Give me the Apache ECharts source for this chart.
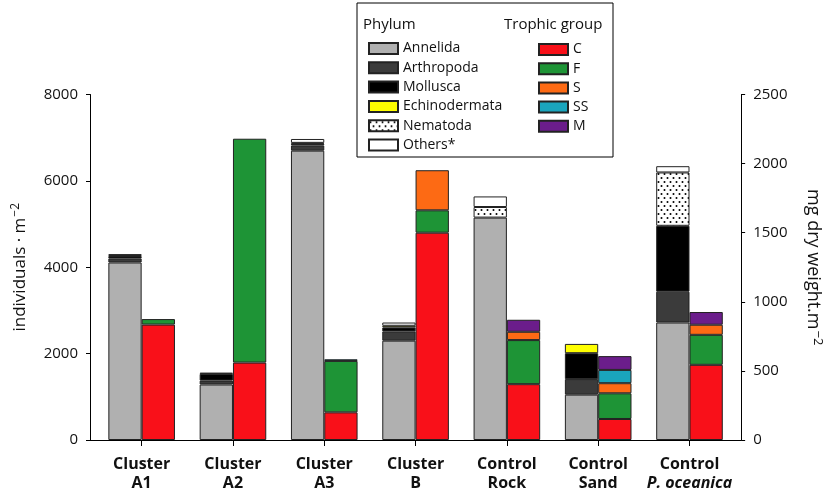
<!DOCTYPE html>
<html>
<head>
<meta charset="utf-8">
<script src="https://cdn.jsdelivr.net/npm/echarts@6/dist/echarts.min.js"></script>
<style>
  html, body { margin: 0; padding: 0; background: #fff; }
  #chart { width: 829px; height: 493px; }
</style>
</head>
<body>
<div id="chart"></div>
<script>
// Sites (two-line labels: site type / site name)
const categories = ['Cluster\nA1', 'Cluster\nA2', 'Cluster\nA3', 'Cluster\nB', 'Control\nRock', 'Control\nSand', 'Control\nP. oceanica'];

// Density by phylum (individuals per m2), left axis
const annelida      = [4110, 1285, 6700, 2300, 5150, 1050, 2720];
const arthropoda    = [95, 90, 120, 215, null, 360, 715];
const mollusca      = [55, 155, 40, 90, null, 600, 1525];
const echinodermata = [null, null, 20, 40, null, 215, null];
const nematoda      = [null, null, null, null, 245, null, 1235];
const others        = [45, 30, 90, 75, 245, null, 145];

// Biomass by trophic group (mg dry weight per m2), right axis
const trophC  = [835, 560, 200, 1500, 404, 152, 544];
const trophF  = [40, 1620, 372, 162, 319, 186, 217];
const trophS  = [null, null, null, 290, 60, 73, 73];
const trophSS = [null, null, 12, null, null, 96, null];
const trophM  = [null, null, null, null, 87, 100, 92];

// Axis ticks
const leftTicks  = { min: 0, max: 8000, interval: 2000 };
const rightTicks = { min: 0, max: 2500, interval: 500 };

// Dotted fill used for Nematoda
function dotPattern() {
  const c = document.createElement('canvas');
  c.width = 6; c.height = 8;
  const g = c.getContext('2d');
  g.fillStyle = '#fff';
  g.fillRect(0, 0, 6, 8);
  g.fillStyle = '#000';
  g.beginPath(); g.arc(1.5, 2, 1, 0, Math.PI * 2); g.fill();
  g.beginPath(); g.arc(4.5, 6, 1, 0, Math.PI * 2); g.fill();
  return { image: c, repeat: 'repeat' };
}

const FONT = 'Open Sans';
const EDGE = '#222';

function barStyle(color) {
  return { color: color, borderColor: EDGE, borderWidth: 1 };
}

const phylumSeries = [
  ['Annelida', annelida, '#b0b0b0'],
  ['Arthropoda', arthropoda, '#3b3b3b'],
  ['Mollusca', mollusca, '#000000'],
  ['Echinodermata', echinodermata, '#ffff00'],
  ['Nematoda', nematoda, dotPattern()],
  ['Others*', others, '#ffffff']
].map(([name, data, color]) => ({
  name, type: 'bar', stack: 'phylum', data,
  xAxisIndex: 0, yAxisIndex: 0,
  barWidth: 33.3, barGap: '0%',
  itemStyle: barStyle(color)
}));

const trophicSeries = [
  ['C', trophC, '#f91019'],
  ['F', trophF, '#1e9436'],
  ['S', trophS, '#fd6a14'],
  ['SS', trophSS, '#1aa5bd'],
  ['M', trophM, '#6b1d8b']
].map(([name, data, color]) => ({
  name, type: 'bar', stack: 'trophic', data,
  xAxisIndex: 0, yAxisIndex: 1,
  barWidth: 33.3, barGap: '0%',
  itemStyle: barStyle(color)
}));

const chart = echarts.init(document.getElementById('chart'), null, { renderer: 'canvas' });

const legendText = { fontFamily: FONT, fontSize: 14, color: '#111', lineHeight: 14 };
const plain = v => String(v);

chart.setOption({
  animation: false,
  backgroundColor: '#fff',
  textStyle: { fontFamily: FONT },
  grid: [
    { left: 96, right: 93.85, top: 94.5, bottom: 53, containLabel: false, outerBoundsMode: 'none' },
    { left: 90, right: 88, top: 94.5, bottom: 53, containLabel: false, outerBoundsMode: 'none' }
  ],
  legend: [
    {
      data: phylumSeries.map(s => s.name),
      orient: 'vertical', left: 368, top: 41.5, padding: 0,
      itemWidth: 29, itemHeight: 11, itemGap: 5.3,
      icon: 'rect', selectedMode: false,
      textStyle: legendText
    },
    {
      data: trophicSeries.map(s => s.name),
      orient: 'vertical', left: 538, top: 42.5, padding: 0,
      itemWidth: 29, itemHeight: 11, itemGap: 5.2,
      icon: 'rect', selectedMode: false,
      textStyle: legendText
    }
  ],
  graphic: [
    { type: 'rect', shape: { x: 357, y: 3, width: 256, height: 154 },
      style: { fill: 'none', stroke: '#000', lineWidth: 1 }, z: 1 },
    { type: 'text', x: 363, y: 25,
      style: { text: 'Phylum', font: '15px "Open Sans"', fill: '#111', textVerticalAlign: 'middle' } },
    { type: 'text', x: 504, y: 25,
      style: { text: 'Trophic group', font: '15px "Open Sans"', fill: '#111', textVerticalAlign: 'middle' } }
  ],
  xAxis: [
    {
      type: 'category', gridIndex: 0, data: categories,
      axisLine: { show: false },
      axisTick: { show: true, alignWithLabel: true, length: 6, lineStyle: { color: '#000' } },
      axisLabel: {
        margin: 15, interval: 0, color: '#111',
        formatter: function (v) {
          const parts = v.split('\n');
          const second = parts[1] === 'P. oceanica' ? '{i|' + parts[1] + '}' : '{b|' + parts[1] + '}';
          return '{b|' + parts[0] + '}\n' + second;
        },
        rich: {
          b: { fontFamily: FONT, fontSize: 16, fontWeight: 'bold', color: '#111', lineHeight: 19 },
          i: { fontFamily: FONT, fontSize: 16, fontWeight: 'bold', fontStyle: 'italic', color: '#111', lineHeight: 19 }
        }
      }
    },
    {
      type: 'value', gridIndex: 1, min: 0, max: 1,
      axisLine: { show: true, lineStyle: { color: '#000', width: 1 } },
      axisTick: { show: false }, axisLabel: { show: false }, splitLine: { show: false }
    }
  ],
  yAxis: [
    {
      type: 'value', gridIndex: 0, position: 'left', offset: 6,
      min: leftTicks.min, max: leftTicks.max, interval: leftTicks.interval,
      axisLine: { show: true, lineStyle: { color: '#000', width: 1 } },
      axisTick: { show: true, length: 4, lineStyle: { color: '#000' } },
      splitLine: { show: false },
      axisLabel: { margin: 12, fontSize: 15, color: '#111', fontFamily: FONT, formatter: plain },
      name: 'individuals · m{s|−2}', nameLocation: 'middle', nameGap: 59,
      nameTextStyle: {
        fontFamily: FONT, fontSize: 17, color: '#111',
        rich: { s: { fontFamily: FONT, fontSize: 12, color: '#111', verticalAlign: 'top', padding: [0, 0, 9, 1] } }
      }
    },
    {
      type: 'value', gridIndex: 0, position: 'right', offset: 6,
      min: rightTicks.min, max: rightTicks.max, interval: rightTicks.interval,
      axisLine: { show: true, lineStyle: { color: '#000', width: 1 } },
      axisTick: { show: true, length: 4, lineStyle: { color: '#000' } },
      splitLine: { show: false },
      axisLabel: { margin: 12, fontSize: 15, color: '#111', fontFamily: FONT, formatter: plain },
      name: 'mg dry weight.m{s|−2}', nameLocation: 'middle', nameGap: 60, nameRotate: -90,
      nameTextStyle: {
        fontFamily: FONT, fontSize: 18, color: '#111',
        rich: { s: { fontFamily: FONT, fontSize: 13, color: '#111', verticalAlign: 'top', padding: [0, 0, 10, 1] } }
      }
    },
    { type: 'value', gridIndex: 1, show: false, min: 0, max: 1 }
  ],
  series: phylumSeries.concat(trophicSeries)
});
</script>
</body>
</html>
